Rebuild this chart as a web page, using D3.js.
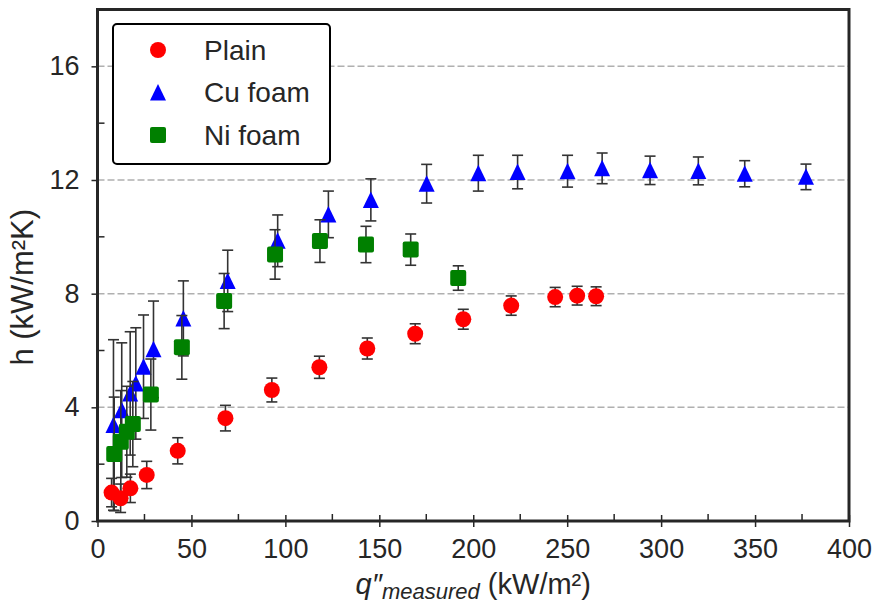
<!DOCTYPE html>
<html>
<head>
<meta charset="utf-8">
<script src="https://cdn.jsdelivr.net/npm/d3@7"></script>
<style>
  body { margin: 0; background: #fff; }
  text { font-family: "Liberation Sans", Arial, sans-serif; fill: #262626; }
</style>
</head>
<body>
<div class="chart"></div>
<script>
// Plain surface
var plainQ = [7.5, 12.3, 17.5, 26.2, 42.7, 68.1, 92.8, 118.1, 143.6, 169.1, 194.7, 220.2, 243.6, 255.3, 265.4];
var plainH = [1.0, 0.8, 1.15, 1.62, 2.47, 3.62, 4.61, 5.41, 6.07, 6.59, 7.10, 7.58, 7.88, 7.93, 7.91];
var plainErr = [0.5, 0.5, 0.5, 0.48, 0.46, 0.45, 0.42, 0.39, 0.37, 0.35, 0.35, 0.34, 0.34, 0.33, 0.33];

// Cu foam
var cuQ = [8.5, 12.9, 17.4, 20.4, 24.5, 29.8, 45.7, 69.3, 95.9, 122.9, 145.5, 175.2, 202.7, 223.6, 250.2, 268.6, 294.1, 319.8, 344.5, 377.1];
var cuH = [3.38, 3.90, 4.49, 4.84, 5.43, 6.04, 7.13, 8.45, 9.86, 10.79, 11.30, 11.87, 12.24, 12.28, 12.31, 12.41, 12.34, 12.32, 12.22, 12.11];
var cuErr = [3.0, 2.37, 2.17, 1.96, 1.82, 1.70, 1.32, 1.08, 0.91, 0.82, 0.74, 0.68, 0.63, 0.59, 0.56, 0.54, 0.50, 0.49, 0.46, 0.45];

// Ni foam
var niQ = [8.9, 12.4, 15.6, 18.8, 28.4, 44.9, 67.4, 94.5, 118.4, 142.9, 166.7, 192.0];
var niH = [2.36, 2.79, 3.14, 3.41, 4.45, 6.11, 7.74, 9.38, 9.85, 9.73, 9.55, 8.55];
var niErr = [2.0, 1.8, 1.6, 1.5, 1.25, 1.12, 0.97, 0.87, 0.75, 0.64, 0.55, 0.43];

var xTicks = [0, 50, 100, 150, 200, 250, 300, 350, 400];
var xMinor = [25, 75, 125, 175, 225, 275, 325, 375];
var yTicks = [0, 4, 8, 12, 16];
var yMinor = [2, 6, 10, 14];
var gridValues = [4, 8, 12, 16];

var svgWidth = 878;
var svgHeight = 608;
var margin = { top: 9.5, right: 29, bottom: 87, left: 97.5 };
var width = svgWidth - margin.left - margin.right;
var height = svgHeight - margin.top - margin.bottom;

var svg = d3.select(".chart")
  .append("svg")
  .attr("width", svgWidth)
  .attr("height", svgHeight);

var chartGroup = svg.append("g")
  .attr("transform", `translate(${margin.left}, ${margin.top})`);

var xScale = d3.scaleLinear().domain([0, 400]).range([0, width]);
var yScale = d3.scaleLinear().domain([0, 18]).range([height, 0]);

var axisColor = "#262626";

// dashed grid lines
chartGroup.selectAll("line.grid")
  .data(gridValues)
  .enter()
  .append("line")
  .attr("class", "grid")
  .attr("x1", 0)
  .attr("x2", width)
  .attr("y1", d => yScale(d))
  .attr("y2", d => yScale(d))
  .attr("stroke", "#b0b0b0")
  .attr("stroke-width", 1.5)
  .attr("stroke-dasharray", "7,3");

// bottom axis: major ticks cross the spine, minor ticks point in
var bottomAxis = d3.axisBottom(xScale).tickValues(xTicks).tickSize(6).tickPadding(11);
var xAxisG = chartGroup.append("g")
  .attr("transform", `translate(0, ${height})`)
  .call(bottomAxis);
xAxisG.select(".domain").remove();
xAxisG.selectAll(".tick line")
  .attr("y1", -6)
  .attr("stroke", axisColor)
  .attr("stroke-width", 1.5);
xAxisG.selectAll(".tick text")
  .attr("font-size", 27)
  .attr("fill", axisColor)
  .attr("dy", "0.75em");

chartGroup.selectAll("line.xminor")
  .data(xMinor)
  .enter()
  .append("line")
  .attr("class", "xminor")
  .attr("x1", d => xScale(d))
  .attr("x2", d => xScale(d))
  .attr("y1", height)
  .attr("y2", height - 7)
  .attr("stroke", axisColor)
  .attr("stroke-width", 1.5);

// left axis: major ticks out, minor ticks in
var leftAxis = d3.axisLeft(yScale).tickValues(yTicks).tickSize(6).tickPadding(12);
var yAxisG = chartGroup.append("g").call(leftAxis);
yAxisG.select(".domain").remove();
yAxisG.selectAll(".tick line")
  .attr("stroke", axisColor)
  .attr("stroke-width", 1.5);
yAxisG.selectAll(".tick text")
  .attr("font-size", 27)
  .attr("fill", axisColor);

chartGroup.selectAll("line.yminor")
  .data(yMinor)
  .enter()
  .append("line")
  .attr("class", "yminor")
  .attr("x1", 0)
  .attr("x2", 7)
  .attr("y1", d => yScale(d))
  .attr("y2", d => yScale(d))
  .attr("stroke", axisColor)
  .attr("stroke-width", 1.5);

// draw one series with error bars
function drawSeries(qs, hs, errs, color, shape) {
  var data = qs.map((q, i) => ({ q: q, h: hs[i], e: errs[i] }));
  var g = chartGroup.append("g");

  var bars = g.selectAll("g.err")
    .data(data)
    .enter()
    .append("g")
    .attr("class", "err")
    .attr("stroke", "#333333")
    .attr("stroke-width", 1.6);
  bars.append("line")
    .attr("x1", d => xScale(d.q)).attr("x2", d => xScale(d.q))
    .attr("y1", d => yScale(d.h - d.e)).attr("y2", d => yScale(d.h + d.e));
  bars.append("line")
    .attr("x1", d => xScale(d.q) - 5.5).attr("x2", d => xScale(d.q) + 5.5)
    .attr("y1", d => yScale(d.h + d.e)).attr("y2", d => yScale(d.h + d.e));
  bars.append("line")
    .attr("x1", d => xScale(d.q) - 5.5).attr("x2", d => xScale(d.q) + 5.5)
    .attr("y1", d => yScale(d.h - d.e)).attr("y2", d => yScale(d.h - d.e));

  g.selectAll("path.mark")
    .data(data)
    .enter()
    .append("path")
    .attr("class", "mark")
    .attr("d", markerPath(shape))
    .attr("transform", d => `translate(${xScale(d.q)}, ${yScale(d.h)})`)
    .attr("fill", color);
}

function markerPath(shape) {
  if (shape === "circle") return d3.symbol(d3.symbolCircle, Math.PI * 8 * 8)();
  if (shape === "triangle") return "M0,-8.5L8,8L-8,8Z";
  return "M-6,-8H6Q8,-8 8,-6V6Q8,8 6,8H-6Q-8,8 -8,6V-6Q-8,-8 -6,-8Z";
}

drawSeries(cuQ, cuH, cuErr, "#0000ff", "triangle");
drawSeries(niQ, niH, niErr, "#008000", "square");
drawSeries(plainQ, plainH, plainErr, "#ff0000", "circle");

// frame
chartGroup.append("rect")
  .attr("x", 0)
  .attr("y", 0)
  .attr("width", width)
  .attr("height", height)
  .attr("fill", "none")
  .attr("stroke", axisColor)
  .attr("stroke-width", 3);

// legend
var legendItems = [
  { label: "Plain", color: "#ff0000", shape: "circle" },
  { label: "Cu foam", color: "#0000ff", shape: "triangle" },
  { label: "Ni foam", color: "#008000", shape: "square" }
];
var legend = svg.append("g").attr("transform", "translate(113, 24)");
legend.append("rect")
  .attr("width", 217)
  .attr("height", 140)
  .attr("rx", 4)
  .attr("fill", "#fff")
  .attr("stroke", "#000")
  .attr("stroke-width", 2);
var rows = legend.selectAll("g.row")
  .data(legendItems)
  .enter()
  .append("g")
  .attr("class", "row")
  .attr("transform", (d, i) => `translate(45, ${26 + i * 42.5})`);
rows.append("path")
  .attr("d", d => markerPath(d.shape))
  .attr("fill", d => d.color);
rows.append("text")
  .attr("x", 46)
  .attr("dy", "0.35em")
  .attr("font-size", 28)
  .text(d => d.label);

// axis titles
svg.append("text")
  .attr("transform", `translate(33, ${margin.top + height / 2 + 22}) rotate(-90)`)
  .attr("text-anchor", "middle")
  .attr("font-size", 31)
  .text("h (kW/m²K)");

var xTitle = svg.append("text")
  .attr("x", margin.left + width / 2)
  .attr("y", 594)
  .attr("text-anchor", "middle")
  .attr("font-size", 29);
xTitle.append("tspan").attr("font-style", "italic").text("q″");
xTitle.append("tspan").attr("font-style", "italic").attr("font-size", 22).attr("dy", 5).text("measured");
xTitle.append("tspan").attr("dy", -5).text(" (kW/m²)");
</script>
</body>
</html>
